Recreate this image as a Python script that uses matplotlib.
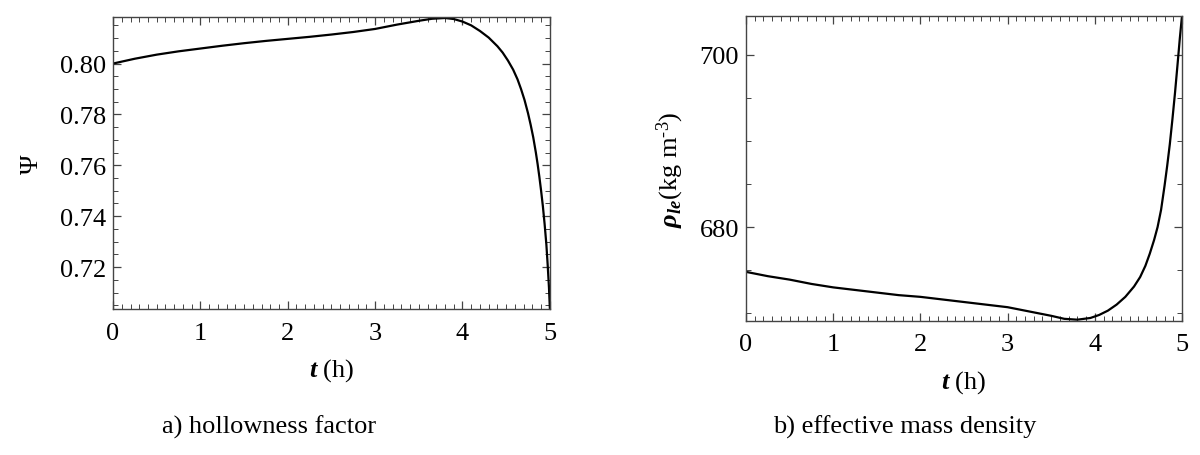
import matplotlib
matplotlib.use("Agg")
import matplotlib.pyplot as plt
from matplotlib.ticker import MultipleLocator, FormatStrFormatter

# fonts: Times-like serif, bold italic for the variable names
plt.rcParams['font.family'] = ['Liberation Serif', 'DejaVu Serif']
plt.rcParams['mathtext.fontset'] = 'custom'
plt.rcParams['mathtext.rm'] = 'Liberation Serif'
plt.rcParams['mathtext.it'] = 'Liberation Serif:italic'
plt.rcParams['mathtext.bf'] = 'Liberation Serif:bold:italic'

# a) hollowness factor
t_psi = [0.0, 0.25, 0.5, 0.75, 1.0, 1.25, 1.5, 1.75, 2.0, 2.25, 2.5, 2.75,
         3.0, 3.25, 3.5, 3.65, 3.8, 3.9, 4.0, 4.1, 4.2, 4.3, 4.4, 4.46,
         4.52, 4.58, 4.63, 4.67, 4.71, 4.75, 4.78, 4.81, 4.84, 4.86, 4.88,
         4.90, 4.92, 4.94, 4.96, 4.975, 4.99, 5.0]
psi = [0.8000, 0.8019, 0.8035, 0.8048, 0.8059, 0.8070, 0.8080, 0.8089,
       0.8097, 0.8105, 0.8114, 0.8124, 0.8136, 0.8153, 0.8168, 0.8176,
       0.8179, 0.8175, 0.8165, 0.8150, 0.8128, 0.8102, 0.8068, 0.8043,
       0.8012, 0.7976, 0.7938, 0.7900, 0.7857, 0.7805, 0.7760, 0.7710,
       0.7650, 0.7605, 0.7555, 0.7500, 0.7440, 0.7370, 0.7290, 0.7210,
       0.7120, 0.7040]

# b) effective mass density
t_rho = [0.0, 0.25, 0.5, 0.75, 1.0, 1.25, 1.5, 1.75, 2.0, 2.25, 2.5, 2.75,
         3.0, 3.25, 3.5, 3.65, 3.8, 3.95, 4.05, 4.15, 4.25, 4.35, 4.45,
         4.52, 4.58, 4.63, 4.68, 4.72, 4.76, 4.80, 4.83, 4.86, 4.89, 4.92,
         4.95, 4.975, 5.0]
rho = [674.8, 674.3, 673.9, 673.4, 673.0, 672.7, 672.4, 672.1, 671.9,
       671.6, 671.3, 671.0, 670.7, 670.2, 669.7, 669.35, 669.25, 669.45,
       669.8, 670.3, 671.0, 671.9, 673.1, 674.2, 675.5, 676.9, 678.5,
       680.0, 682.0, 684.8, 687.1, 689.6, 692.5, 695.6, 699.0, 701.9,
       704.5]

psi_ticks = [0.72, 0.74, 0.76, 0.78, 0.80]
rho_ticks = [680, 700]
t_ticks = [0, 1, 2, 3, 4, 5]

fig = plt.figure(figsize=(12, 4.56), dpi=100)
ax1 = fig.add_axes([0.0942, 0.320, 0.364, 0.640])
ax2 = fig.add_axes([0.6217, 0.2939, 0.3633, 0.6689])


def frame(ax):
    for s in ax.spines.values():
        s.set_color('#444444')
        s.set_linewidth(1.0)
    ax.tick_params(which='both', direction='in', top=True, right=True,
                   colors='#444444', labelcolor='black', labelsize=19)
    ax.tick_params(which='major', length=6, width=0.9)
    ax.tick_params(which='minor', length=3.5, width=0.7)
    ax.tick_params(axis='x', pad=9)
    ax.tick_params(axis='y', pad=5)
    ax.set_xticks(t_ticks)
    ax.xaxis.set_minor_locator(MultipleLocator(0.1))
    ax.set_xlim(0, 5)


# left panel
ax1.plot(t_psi, psi, color='black', linewidth=1.6)
frame(ax1)
ax1.set_ylim(0.7035, 0.8182)
ax1.set_yticks(psi_ticks)
ax1.yaxis.set_major_formatter(FormatStrFormatter('%.2f'))
ax1.yaxis.set_minor_locator(MultipleLocator(0.005))
ax1.set_xlabel(r'$\mathbf{t}$ (h)', fontsize=19, labelpad=9)
ax1.set_ylabel('Ψ', fontsize=19, labelpad=12)

# right panel
ax2.plot(t_rho, rho, color='black', linewidth=1.6)
frame(ax2)
ax2.set_ylim(669.1, 704.5)
ax2.set_yticks(rho_ticks)
ax2.yaxis.set_minor_locator(MultipleLocator(5))
ax2.set_xlabel(r'$\mathbf{t}$ (h)', fontsize=19, labelpad=9)
ax2.set_ylabel('$\\mathbf{\\rho_{le}}$(kg m$^{\u20103}$)', fontsize=19, labelpad=10)

# captions under the panels
fig.text(0.224, 0.062, 'a) hollowness factor', fontsize=19, ha='center', va='center')
fig.text(0.754, 0.062, 'b) effective mass density', fontsize=19, ha='center', va='center')

plt.savefig('out.png', dpi=100)
